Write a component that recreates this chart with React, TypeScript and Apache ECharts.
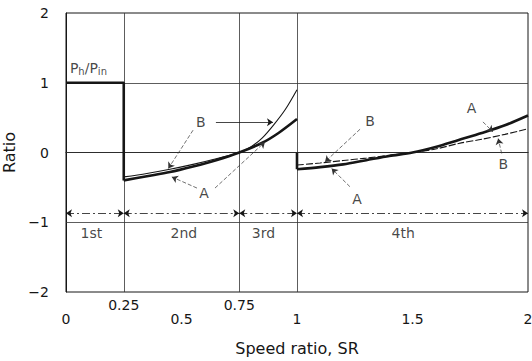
import React, { useEffect, useRef } from "react";
import * as echarts from "echarts";

// ---- data ----
const xLabelsLow = [0, 0.5, 1, 1.5, 2];
const xLabelsHigh = [0.25, 0.75];
const xGridLines = [0.25, 0.75, 1];
const yGridLines = [-1, 0, 1];

// power ratio Ph/Pin in 1st gear and the drop at 0.25
const phLine = [[0, 1], [0.25, 1], [0.25, -0.4]];
// 2nd & 3rd gear range (0.25 .. 1)
const curveA2 = [[0.25, -0.4], [0.35, -0.34], [0.45, -0.28], [0.55, -0.2], [0.65, -0.11], [0.75, 0], [0.85, 0.14], [0.92, 0.28], [1.0, 0.48]];
const curveB2 = [[0.25, -0.35], [0.35, -0.3], [0.45, -0.24], [0.55, -0.17], [0.65, -0.09], [0.75, 0], [0.8, 0.08], [0.85, 0.21], [0.9, 0.4], [0.95, 0.62], [1.0, 0.9]];
// step at SR = 1
const step4 = [[1, 0], [1, -0.24]];
// 4th gear range (1 .. 2)
const curveA4 = [[1.0, -0.24], [1.1, -0.21], [1.2, -0.17], [1.3, -0.11], [1.4, -0.05], [1.5, 0], [1.6, 0.08], [1.7, 0.18], [1.8, 0.28], [1.9, 0.39], [2.0, 0.53]];
const curveB4 = [[1.0, -0.18], [1.1, -0.15], [1.2, -0.115], [1.3, -0.08], [1.4, -0.04], [1.5, 0], [1.6, 0.05], [1.7, 0.13], [1.8, 0.19], [1.9, 0.26], [2.0, 0.34]];

// gear ranges (dimension arrows) and their names
const gearRanges = [[0, 0.25], [0.25, 0.75], [0.75, 1], [1, 2]];
const gearNames = ["1st", "2nd", "3rd", "4th"];
const gearLabelX = [0.11, 0.51, 0.855, 1.46];
const gearArrowY = -0.87;
const gearLabelY = -1.16;

// curve labels and their leader lines (data coordinates)
const curveLabels = [
  { name: "B", value: [0.584, 0.434] },
  { name: "A", value: [0.597, -0.58] },
  { name: "B", value: [1.316, 0.453] },
  { name: "A", value: [1.26, -0.67] },
  { name: "A", value: [1.756, 0.631] },
  { name: "B", value: [1.893, -0.158] },
];
const leaderSolid = [
  [[0.649, 0.434], [0.896, 0.434]],
];
const leaderDashed = [
  [[0.55, 0.32], [0.443, -0.23]],
  [[0.567, -0.51], [0.458, -0.35]],
  [[0.645, -0.51], [0.861, 0.15]],
  [[1.273, 0.334], [1.121, -0.135]],
  [[1.229, -0.49], [1.15, -0.23]],
  [[1.805, 0.439], [1.848, 0.296]],
  [[1.886, -0.014], [1.871, 0.2]],
];
const phLabelPos = [0.017, 1.21];

const FONT = "DejaVu Sans";
const INK = "#161616";

export default function App() {
  const ref = useRef<HTMLDivElement>(null);
  useEffect(() => {
    if (!ref.current) return;
    const chart = echarts.init(ref.current, null, { renderer: "svg" });
    const thick = { color: INK, width: 2.6 };
    const thin = { color: INK, width: 1.1 };
    chart.setOption({
      animation: false,
      backgroundColor: "#ffffff",
      textStyle: { fontFamily: FONT, color: INK },
      grid: {
        left: 66, right: 4, top: 13, bottom: 69,
        show: true, borderColor: INK, borderWidth: 1,
        outerBoundsMode: "none",
      },
      xAxis: [
        {
          type: "value", min: 0, max: 2, interval: 0.5,
          name: "Speed ratio, SR", nameLocation: "middle", nameGap: 48,
          nameTextStyle: { fontSize: 16, fontFamily: FONT, color: INK },
          axisLine: { show: true, lineStyle: { color: INK, width: 1 } },
          axisTick: { show: false },
          splitLine: { show: false },
          axisLabel: {
            showMinLabel: true, showMaxLabel: true,
            margin: 20, fontSize: 14, fontFamily: FONT, color: INK,
            formatter: (v: number) => (xLabelsLow.includes(v) ? String(v) : ""),
          },
        },
        {
          type: "value", min: 0, max: 2, interval: 0.25, position: "bottom",
          axisLine: { show: false }, axisTick: { show: false }, splitLine: { show: false },
          axisLabel: {
            margin: 6, fontSize: 14, fontFamily: FONT, color: INK,
            formatter: (v: number) => (xLabelsHigh.includes(v) ? v.toFixed(2) : ""),
          },
        },
      ],
      yAxis: {
        type: "value", min: -2, max: 2, interval: 1,
        name: "Ratio", nameLocation: "middle", nameGap: 37, nameRotate: 90,
        nameTextStyle: { fontSize: 16, fontFamily: FONT, color: INK },
        axisLine: { show: true, lineStyle: { color: INK, width: 1 } },
        axisTick: { show: false },
        splitLine: { show: false },
        axisLabel: {
          margin: 17, fontSize: 14, fontFamily: FONT, color: INK,
          formatter: (v: number) => String(v).replace("-", "\u2212"),
        },
      },
      series: [
        {
          type: "line", data: phLine, symbol: "none", lineStyle: thick, z: 5,
          markLine: {
            silent: true, symbol: "none", label: { show: false },
            lineStyle: { color: "#333", width: 0.8, type: "solid" },
            data: [
              ...xGridLines.map((x) => ({ xAxis: x })),
              ...yGridLines.map((y) => ({ yAxis: y })),
            ],
          },
        },
        { type: "line", data: curveA2, symbol: "none", smooth: 0.3, lineStyle: thick, z: 5 },
        { type: "line", data: curveB2, symbol: "none", smooth: 0.3, lineStyle: thin, z: 4 },
        { type: "line", data: step4, symbol: "none", lineStyle: thick, z: 5 },
        { type: "line", data: curveA4, symbol: "none", smooth: 0.3, lineStyle: thick, z: 5 },
        { type: "line", data: curveB4, symbol: "none", smooth: 0.3, lineStyle: { ...thin, type: [7, 2] }, z: 4 },
        {
          type: "lines", coordinateSystem: "cartesian2d", z: 6,
          symbol: ["arrow", "arrow"], symbolSize: 6,
          lineStyle: { color: INK, width: 0.8, type: [8, 3, 2, 3], opacity: 1 },
          data: gearRanges.map(([a, b]) => ({ coords: [[a, gearArrowY], [b, gearArrowY]] })),
        },
        {
          type: "lines", coordinateSystem: "cartesian2d", z: 6,
          symbol: ["none", "arrow"], symbolSize: 6,
          lineStyle: { color: INK, width: 0.8, type: "solid", opacity: 1 },
          data: leaderSolid.map((c) => ({ coords: c })),
        },
        {
          type: "lines", coordinateSystem: "cartesian2d", z: 6,
          symbol: ["none", "arrow"], symbolSize: 6,
          lineStyle: { color: "#333", width: 0.7, type: [4, 2], opacity: 1 },
          data: leaderDashed.map((c) => ({ coords: c })),
        },
        {
          type: "scatter", symbolSize: 0, z: 7,
          data: [
            ...curveLabels,
            ...gearNames.map((n, i) => ({ name: n, value: [gearLabelX[i], gearLabelY] })),
          ],
          label: {
            show: true, position: "inside", formatter: "{b}",
            fontSize: 14, fontFamily: FONT, color: INK,
          },
        },
        {
          type: "scatter", symbolSize: 0, z: 7,
          data: [{ name: "Ph/Pin", value: phLabelPos }],
          label: {
            show: true, position: "inside", align: "left", verticalAlign: "middle",
            formatter: "P{s|h}/P{s|in}",
            fontSize: 14, fontFamily: FONT, color: INK,
            rich: {
              s: { fontSize: 10, fontFamily: FONT, color: INK, verticalAlign: "bottom", padding: [7, 0, 0, 0] },
            },
          },
        },
      ],
    });
    return () => chart.dispose();
  }, []);
  return (
    <div
      ref={ref}
      style={{ position: "absolute", left: 0, top: 0, width: 532, height: 361, background: "#fff" }}
    />
  );
}
